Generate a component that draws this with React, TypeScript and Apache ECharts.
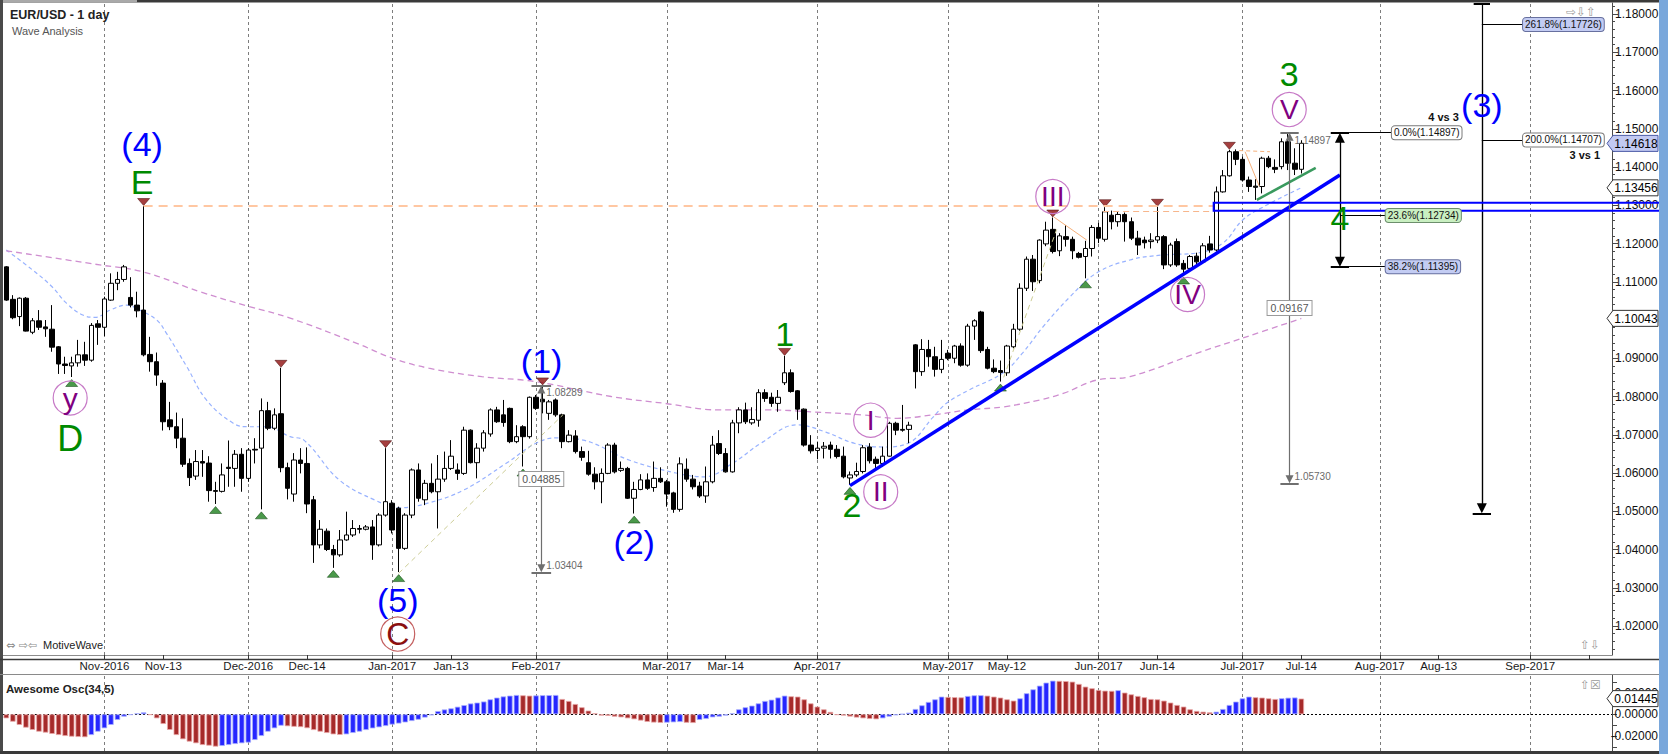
import React, { useEffect, useRef } from 'react';
import * as echarts from 'echarts';

const FONT = '"Liberation Sans", Arial, Helvetica, sans-serif';
const SYMBOL_FONT = '"DejaVu Sans", sans-serif';

// ---------------- categories: weekday sessions from 2016-10-11 ----------------
const CATEGORY_COUNT = 246;
function buildSessions(): string[] {
  const out: string[] = [];
  const d = new Date(Date.UTC(2016, 9, 11));
  while (out.length < CATEGORY_COUNT) {
    const wd = d.getUTCDay();
    if (wd !== 0 && wd !== 6) out.push(d.toISOString().slice(0, 10));
    d.setUTCDate(d.getUTCDate() + 1);
  }
  return out;
}
const sessions = buildSessions();

const xTickLabels: [string, string][] = [
  ['2016-11-01', 'Nov-2016'], ['2016-11-14', 'Nov-13'], ['2016-12-01', 'Dec-2016'], ['2016-12-14', 'Dec-14'],
  ['2017-01-02', 'Jan-2017'], ['2017-01-13', 'Jan-13'], ['2017-02-01', 'Feb-2017'], ['2017-03-01', 'Mar-2017'],
  ['2017-03-14', 'Mar-14'], ['2017-04-03', 'Apr-2017'], ['2017-05-01', 'May-2017'], ['2017-05-12', 'May-12'],
  ['2017-06-01', 'Jun-2017'], ['2017-06-14', 'Jun-14'], ['2017-07-03', 'Jul-2017'], ['2017-07-14', 'Jul-14'],
  ['2017-08-01', 'Aug-2017'], ['2017-08-14', 'Aug-13'], ['2017-09-01', 'Sep-2017'], ['2017-09-14', ''],
];
const monthStarts = ['2016-11-01', '2016-12-01', '2017-01-02', '2017-02-01', '2017-03-01', '2017-04-03',
  '2017-05-01', '2017-06-01', '2017-07-03', '2017-08-01', '2017-09-01'];

// ---------------- EUR/USD daily candles ----------------
const opens = [
  1.1139, 1.1054, 1.1009, 1.1057, 1.0968, 1.0998, 1.0982, 1.0976, 1.0930, 1.0885,
  1.0880, 1.0888, 1.0909, 1.0895, 1.0990, 1.0981, 1.1052, 1.1096, 1.1106, 1.1059,
  1.1039, 1.1026, 1.0910, 1.0891, 1.0835, 1.0739, 1.0721, 1.0691, 1.0625, 1.0592,
  1.0630, 1.0626, 1.0554, 1.0552, 1.0615, 1.0612, 1.0649, 1.0586, 1.0662, 1.0665,
  1.0763, 1.0717, 1.0755, 1.0614, 1.0545, 1.0634, 1.0625, 1.0530, 1.0412, 1.0448,
  1.0400, 1.0386, 1.0425, 1.0438, 1.0455, 1.0453, 1.0459, 1.0412, 1.0490, 1.0521,
  1.0508, 1.0403, 1.0490, 1.0608, 1.0530, 1.0573, 1.0551, 1.0584, 1.0612, 1.0608,
  1.0599, 1.0712, 1.0627, 1.0665, 1.0702, 1.0765, 1.0752, 1.0769, 1.0682, 1.0721,
  1.0695, 1.0798, 1.0793, 1.0756, 1.0791, 1.0752, 1.0682, 1.0697, 1.0656, 1.0627,
  1.0597, 1.0577, 1.0599, 1.0673, 1.0607, 1.0612, 1.0534, 1.0557, 1.0582, 1.0562,
  1.0586, 1.0577, 1.0548, 1.0505, 1.0610, 1.0584, 1.0566, 1.0540, 1.0577, 1.0677,
  1.0651, 1.0603, 1.0731, 1.0765, 1.0731, 1.0738, 1.0810, 1.0798, 1.0782, 1.0836,
  1.0862, 1.0815, 1.0767, 1.0673, 1.0659, 1.0665, 1.0673, 1.0662, 1.0644, 1.0587,
  1.0595, 1.0604, 1.0668, 1.0636, 1.0625, 1.0644, 1.0730, 1.0714, 1.0714, 1.0935,
  1.0865, 1.0923, 1.0904, 1.0871, 1.0913, 1.0900, 1.0932, 1.0882, 1.0984, 1.1021,
  1.0923, 1.0874, 1.0868, 1.0862, 1.0930, 1.0976, 1.1083, 1.1159, 1.1103, 1.1199,
  1.1237, 1.1181, 1.1218, 1.1211, 1.1174, 1.1166, 1.1187, 1.1242, 1.1211, 1.1274,
  1.1257, 1.1276, 1.1257, 1.1214, 1.1209, 1.1205, 1.1209, 1.1218, 1.1144, 1.1205,
  1.1148, 1.1135, 1.1167, 1.1152, 1.1199, 1.1183, 1.1335, 1.1377, 1.1440, 1.1420,
  1.1366, 1.1350, 1.1349, 1.1423, 1.1399, 1.1401, 1.1466, 1.1410, 1.1394,
];
const highs = [
  1.1141, 1.1065, 1.1059, 1.1060, 1.1005, 1.1026, 1.1000, 1.1039, 1.0932, 1.0904,
  1.0904, 1.0948, 1.0943, 1.0992, 1.1000, 1.1061, 1.1122, 1.1126, 1.1144, 1.1112,
  1.1074, 1.1298, 1.0956, 1.0915, 1.0843, 1.0786, 1.0758, 1.0743, 1.0638, 1.0660,
  1.0660, 1.0644, 1.0577, 1.0625, 1.0685, 1.0660, 1.0665, 1.0665, 1.0691, 1.0795,
  1.0786, 1.0769, 1.0875, 1.0627, 1.0652, 1.0665, 1.0667, 1.0540, 1.0477, 1.0455,
  1.0412, 1.0451, 1.0499, 1.0477, 1.0464, 1.0464, 1.0477, 1.0495, 1.0665, 1.0529,
  1.0512, 1.0495, 1.0612, 1.0625, 1.0582, 1.0625, 1.0647, 1.0656, 1.0686, 1.0625,
  1.0721, 1.0714, 1.0678, 1.0712, 1.0769, 1.0773, 1.0791, 1.0771, 1.0725, 1.0725,
  1.0800, 1.0804, 1.0829, 1.0791, 1.0795, 1.0755, 1.0712, 1.0712, 1.0669, 1.0658,
  1.0615, 1.0612, 1.0678, 1.0679, 1.0630, 1.0616, 1.0577, 1.0597, 1.0599, 1.0630,
  1.0615, 1.0582, 1.0551, 1.0641, 1.0638, 1.0595, 1.0577, 1.0617, 1.0697, 1.0712,
  1.0665, 1.0739, 1.0772, 1.0784, 1.0772, 1.0819, 1.0819, 1.0810, 1.0817, 1.0906,
  1.0871, 1.0817, 1.0769, 1.0699, 1.0682, 1.0681, 1.0682, 1.0673, 1.0669, 1.0604,
  1.0627, 1.0673, 1.0678, 1.0643, 1.0669, 1.0734, 1.0734, 1.0778, 1.0734, 1.0937,
  1.0950, 1.0948, 1.0930, 1.0948, 1.0922, 1.0935, 1.0939, 1.0990, 1.1002, 1.1024,
  1.0930, 1.0897, 1.0894, 1.0935, 1.0990, 1.1096, 1.1166, 1.1170, 1.1211, 1.1257,
  1.1268, 1.1227, 1.1248, 1.1218, 1.1178, 1.1207, 1.1248, 1.1254, 1.1295, 1.1286,
  1.1283, 1.1281, 1.1268, 1.1233, 1.1218, 1.1227, 1.1296, 1.1222, 1.1202, 1.1213,
  1.1157, 1.1170, 1.1176, 1.1201, 1.1220, 1.1349, 1.1392, 1.1445, 1.1446, 1.1427,
  1.1375, 1.1368, 1.1427, 1.1429, 1.1420, 1.1475, 1.1490, 1.1449, 1.1470,
];
const lows = [
  1.1050, 1.1002, 1.0984, 1.0970, 1.0963, 1.0974, 1.0956, 1.0917, 1.0859, 1.0859,
  1.0851, 1.0878, 1.0880, 1.0891, 1.0935, 1.0958, 1.1050, 1.1078, 1.1100, 1.1033,
  1.1007, 1.0905, 1.0865, 1.0828, 1.0711, 1.0712, 1.0665, 1.0616, 1.0566, 1.0582,
  1.0590, 1.0525, 1.0519, 1.0549, 1.0564, 1.0564, 1.0551, 1.0577, 1.0625, 1.0505,
  1.0712, 1.0712, 1.0602, 1.0531, 1.0525, 1.0599, 1.0495, 1.0365, 1.0403, 1.0396,
  1.0352, 1.0381, 1.0423, 1.0433, 1.0442, 1.0450, 1.0373, 1.0408, 1.0486, 1.0442,
  1.0341, 1.0399, 1.0482, 1.0525, 1.0516, 1.0547, 1.0455, 1.0577, 1.0608, 1.0582,
  1.0595, 1.0625, 1.0586, 1.0656, 1.0695, 1.0731, 1.0721, 1.0678, 1.0678, 1.0617,
  1.0690, 1.0765, 1.0756, 1.0739, 1.0747, 1.0665, 1.0680, 1.0651, 1.0632, 1.0593,
  1.0557, 1.0521, 1.0597, 1.0599, 1.0603, 1.0532, 1.0494, 1.0555, 1.0556, 1.0551,
  1.0574, 1.0512, 1.0496, 1.0499, 1.0577, 1.0557, 1.0535, 1.0522, 1.0573, 1.0647,
  1.0601, 1.0601, 1.0704, 1.0728, 1.0726, 1.0721, 1.0786, 1.0773, 1.0760, 1.0830,
  1.0810, 1.0739, 1.0669, 1.0651, 1.0636, 1.0638, 1.0638, 1.0638, 1.0586, 1.0569,
  1.0590, 1.0599, 1.0625, 1.0612, 1.0616, 1.0643, 1.0699, 1.0708, 1.0678, 1.0821,
  1.0854, 1.0878, 1.0852, 1.0861, 1.0895, 1.0887, 1.0878, 1.0878, 1.0948, 1.0914,
  1.0871, 1.0861, 1.0839, 1.0854, 1.0926, 1.0972, 1.1076, 1.1076, 1.1096, 1.1193,
  1.1174, 1.1167, 1.1192, 1.1159, 1.1161, 1.1109, 1.1166, 1.1201, 1.1205, 1.1237,
  1.1244, 1.1205, 1.1209, 1.1170, 1.1187, 1.1187, 1.1201, 1.1133, 1.1139, 1.1139,
  1.1119, 1.1131, 1.1146, 1.1148, 1.1176, 1.1179, 1.1333, 1.1375, 1.1405, 1.1362,
  1.1335, 1.1314, 1.1331, 1.1397, 1.1384, 1.1394, 1.1392, 1.1379, 1.1383,
];
const closes = [
  1.1052, 1.1006, 1.1057, 1.0971, 1.0998, 1.0981, 1.0977, 1.0929, 1.0885, 1.0881,
  1.0888, 1.0909, 1.0895, 1.0986, 1.0981, 1.1055, 1.1096, 1.1106, 1.1139, 1.1039,
  1.1024, 1.0909, 1.0891, 1.0856, 1.0734, 1.0721, 1.0691, 1.0623, 1.0588, 1.0630,
  1.0626, 1.0554, 1.0552, 1.0595, 1.0612, 1.0649, 1.0586, 1.0660, 1.0660, 1.0763,
  1.0717, 1.0752, 1.0614, 1.0560, 1.0634, 1.0625, 1.0519, 1.0412, 1.0453, 1.0400,
  1.0386, 1.0425, 1.0438, 1.0455, 1.0453, 1.0459, 1.0412, 1.0490, 1.0525, 1.0451,
  1.0403, 1.0490, 1.0608, 1.0534, 1.0573, 1.0551, 1.0584, 1.0612, 1.0644, 1.0599,
  1.0712, 1.0627, 1.0665, 1.0705, 1.0765, 1.0734, 1.0732, 1.0682, 1.0695, 1.0695,
  1.0798, 1.0769, 1.0786, 1.0786, 1.0752, 1.0682, 1.0699, 1.0656, 1.0641, 1.0597,
  1.0577, 1.0599, 1.0673, 1.0603, 1.0612, 1.0534, 1.0557, 1.0582, 1.0560, 1.0586,
  1.0577, 1.0545, 1.0505, 1.0624, 1.0584, 1.0564, 1.0540, 1.0577, 1.0673, 1.0651,
  1.0603, 1.0731, 1.0765, 1.0734, 1.0740, 1.0810, 1.0795, 1.0782, 1.0798, 1.0862,
  1.0813, 1.0767, 1.0673, 1.0658, 1.0665, 1.0670, 1.0662, 1.0643, 1.0590, 1.0595,
  1.0604, 1.0666, 1.0632, 1.0625, 1.0644, 1.0730, 1.0712, 1.0712, 1.0725, 1.0865,
  1.0923, 1.0904, 1.0871, 1.0897, 1.0900, 1.0932, 1.0882, 1.0984, 1.0998, 1.0920,
  1.0874, 1.0865, 1.0863, 1.0932, 1.0976, 1.1083, 1.1159, 1.1100, 1.1209, 1.1235,
  1.1179, 1.1220, 1.1211, 1.1181, 1.1164, 1.1187, 1.1242, 1.1214, 1.1283, 1.1257,
  1.1276, 1.1257, 1.1214, 1.1196, 1.1202, 1.1209, 1.1218, 1.1144, 1.1196, 1.1144,
  1.1133, 1.1166, 1.1152, 1.1194, 1.1183, 1.1335, 1.1377, 1.1440, 1.1420, 1.1366,
  1.1349, 1.1347, 1.1423, 1.1401, 1.1394, 1.1466, 1.1410, 1.1394, 1.1462,
];

// ---------------- Awesome Oscillator (34,5) ----------------
const aoValues = [
  -0.0037, -0.0068, -0.0098, -0.0123, -0.0144, -0.0160, -0.0169, -0.0181, -0.0191, -0.0200,
  -0.0206, -0.0209, -0.0211, -0.0191, -0.0160, -0.0129, -0.0098, -0.0052, -0.0022, -0.0006,
  0.0009, 0.0018, -0.0006, -0.0037, -0.0089, -0.0144, -0.0191, -0.0230, -0.0252, -0.0267,
  -0.0283, -0.0289, -0.0298, -0.0292, -0.0283, -0.0274, -0.0267, -0.0261, -0.0237, -0.0200,
  -0.0160, -0.0129, -0.0105, -0.0110, -0.0115, -0.0118, -0.0128, -0.0145, -0.0160, -0.0172,
  -0.0185, -0.0190, -0.0185, -0.0172, -0.0160, -0.0145, -0.0130, -0.0120, -0.0108, -0.0095,
  -0.0085, -0.0075, -0.0062, -0.0050, -0.0030, -0.0010, 0.0030, 0.0045, 0.0055, 0.0070,
  0.0085, 0.0100, 0.0108, 0.0118, 0.0138, 0.0154, 0.0165, 0.0172, 0.0178, 0.0175,
  0.0172, 0.0174, 0.0176, 0.0177, 0.0178, 0.0141, 0.0123, 0.0095, 0.0065, 0.0034,
  0.0009, -0.0012, -0.0015, -0.0022, -0.0028, -0.0037, -0.0046, -0.0058, -0.0070, -0.0076,
  -0.0079, -0.0077, -0.0074, -0.0071, -0.0078, -0.0080, -0.0052, -0.0043, -0.0028, -0.0022,
  -0.0012, 0.0009, 0.0046, 0.0065, 0.0080, 0.0101, 0.0123, 0.0135, 0.0155, 0.0172,
  0.0166, 0.0163, 0.0138, 0.0101, 0.0071, 0.0046, 0.0022, -0.0006, -0.0012, -0.0021,
  -0.0030, -0.0037, -0.0043, -0.0046, -0.0037, -0.0022, -0.0009, 0.0002, 0.0015, 0.0049,
  0.0083, 0.0114, 0.0138, 0.0163, 0.0160, 0.0158, 0.0156, 0.0169, 0.0175, 0.0176,
  0.0172, 0.0163, 0.0154, 0.0138, 0.0126, 0.0147, 0.0194, 0.0230, 0.0264, 0.0292,
  0.0310, 0.0308, 0.0306, 0.0301, 0.0280, 0.0255, 0.0240, 0.0224, 0.0218, 0.0216,
  0.0222, 0.0200, 0.0184, 0.0169, 0.0157, 0.0141, 0.0138, 0.0126, 0.0108, 0.0086,
  0.0071, 0.0046, 0.0031, 0.0024, 0.0018, 0.0024, 0.0049, 0.0086, 0.0117, 0.0147,
  0.0163, 0.0157, 0.0154, 0.0147, 0.0141, 0.0148, 0.0153, 0.0155, 0.0145,
];

// ---------------- moving averages [session index, price] ----------------
const fastMA: [number, number][] = [
  [0, 1.1183], [4, 1.1131], [7, 1.1087], [9.2, 1.1044], [11.7, 1.1013], [13.6, 1.1007], [15.9, 1.1026],
  [18.4, 1.1039], [20.4, 1.1026], [23, 1.1000], [24.5, 1.0965], [27.6, 1.0878], [30.6, 1.0791],
  [34.7, 1.0730], [37, 1.0721], [39.8, 1.0721], [43.4, 1.0695], [45.5, 1.0686], [50.9, 1.0582],
  [56.4, 1.0529], [60.2, 1.0509], [64.6, 1.0522], [70, 1.0556], [76.5, 1.0626], [81, 1.0678],
  [84.2, 1.0692], [88.2, 1.0686], [95.2, 1.0634], [102.4, 1.0600], [106.7, 1.0590], [111.1, 1.0626],
  [115.4, 1.0678], [120.9, 1.0726], [125.3, 1.0707], [129.6, 1.0678], [134, 1.0668], [137.9, 1.0678],
  [141.7, 1.0746], [143.8, 1.0783], [147.2, 1.0817], [152.4, 1.0862], [155.4, 1.0914], [158.5, 1.0982],
  [162.6, 1.1060], [166.7, 1.1123], [171.8, 1.1157], [176.8, 1.1170], [182, 1.1175], [186, 1.1201],
  [189, 1.1261], [192.1, 1.1295], [198, 1.1346],
];
const slowMA: [number, number][] = [
  [0, 1.1181], [14.3, 1.1144], [20.9, 1.1126], [29.6, 1.1074], [36.8, 1.1037], [43.4, 1.1005],
  [53.6, 1.0939], [59.1, 1.0900], [64.6, 1.0874], [72.7, 1.0852], [80.9, 1.0839], [92.5, 1.0800],
  [100.7, 1.0782], [108.9, 1.0765], [116.5, 1.0765], [123, 1.0760], [130.7, 1.0752], [136.2, 1.0743],
  [141.7, 1.0752], [147.1, 1.0765], [152.5, 1.0773], [158, 1.0791], [161.6, 1.0808], [166.7, 1.0843],
  [171.8, 1.0852], [182, 1.0913], [189.6, 1.0956], [198, 1.1004],
];

// swing markers
const swingHighIdx = [21, 42, 58, 82, 119, 160, 168, 176, 187];
const swingLowIdx = [10, 32, 39, 50, 60, 79, 96, 129, 152, 165, 180];

// trend / wave lines [session index, price]
const blueTrend: [number, number][] = [[129, 1.0567], [203.9, 1.1379]];
const greenTrend: [number, number][] = [[191.2, 1.1314], [200.2, 1.1398]];
const resistanceLevel: [number, number][] = [[21, 1.1298], [184.6, 1.1298]];
const resistanceLevel2: [number, number][] = [[167.7, 1.1285], [184.6, 1.1285]];
const waveLineA: [number, number][] = [[60, 1.0338], [85.1, 1.0752]];
const waveLineB: [number, number][] = [[152.5, 1.0850], [160.6, 1.1237]];
const waveLineC: [number, number][] = [[160.1, 1.1270], [165.2, 1.1209]];
const waveLineD: [number, number][] = [[188.5, 1.1443], [193.2, 1.1440]];
const waveLineE: [number, number][] = [[189.4, 1.1440], [191.6, 1.1349]];
const supportZone = { fromIdx: 184.6, top: 1.13066, bottom: 1.12857 };

// fib / measure tools
const measureWave1 = { x: 81.8, top: 1.08289, bottom: 1.03404, size: '0.04885' };
const measureWave3 = { x: 196.2, top: 1.14897, bottom: 1.05730, size: '0.09167' };
const fibWave4 = { x: 203.9, top: 1.14897, bottom: 1.11395, labelX: 211.85, levelX: 210.9,
  levels: [['0.0%', 1.14897], ['23.6%', 1.12734], ['38.2%', 1.11395]] as [string, number][] };
const fibWave3 = { x: 225.6, top: 1.1828, bottom: 1.04946, labelX: 231.9,
  levels: [['261.8%', 1.17726], ['200.0%', 1.14707]] as [string, number][] };

// price axis
const priceLabels = [1.02, 1.03, 1.04, 1.05, 1.06, 1.07, 1.08, 1.09, 1.10, 1.11, 1.12, 1.13, 1.14, 1.15, 1.16, 1.17, 1.18];
const PRICE_MIN = 1.01242;
const PRICE_MAX = 1.18288;
const AO_MIN = -0.03384;
const AO_MAX = 0.03623;
const aoLabels = [-0.02, 0, 0.02];
const aoTicks = [-0.03, -0.02, -0.01, 0, 0.01, 0.02, 0.03];

const lastPrice = 1.14618;
const lastFastMA = 1.13456;
const lastSlowMA = 1.10043;
const lastAO = 0.01445;

const BLUE = '#0000ff';
const GREEN = '#008a00';
const PURPLE = '#800080';
const RING = '#c77ac7';

function minorTicks(): number[] {
  const out: number[] = [];
  for (let k = 507; k <= 591; k++) {
    const v = Math.round(k * 2) / 1000;
    if (Math.round(v * 1000) % 10 !== 0) out.push(v);
  }
  return out;
}

function buildOption(): any {
  const labelMap: Record<string, string> = {};
  xTickLabels.forEach(([d, t]) => { labelMap[d] = t; });
  const isTick = (_i: number, v: string) => Object.prototype.hasOwnProperty.call(labelMap, v);
  const candles = opens.map((o, i) => [o, closes[i], lows[i], highs[i]]);
  const aoData = aoValues.map((v, i) => {
    const up = i > 0 && v > aoValues[i - 1];
    return {
      value: v,
      itemStyle: { color: up ? '#2626ff' : '#a62a2a', borderColor: up ? '#a8b0ff' : '#e9a6a6', borderWidth: 0.8 },
    };
  });
  const gridLine = { color: '#7d7d7d', width: 1, type: [3, 3] };
  const seg = (c: [number, number][], lineStyle: any) => ({ coords: c, lineStyle: { opacity: 1, ...lineStyle } });
  const cap = (x: number, y: number, half: number, color: string) =>
    seg([[x - half, y], [x + half, y]], { color, width: 2 });
  const GRAY = '#6f6f6f';
  const pad8 = 4 / 3825;
  const pad10 = 5 / 3825;

  const plainSegs = [
    seg(resistanceLevel, { color: '#ffc7a2', width: 1.8, type: [9, 6] }),
    seg(resistanceLevel2, { color: '#f7b68c', width: 1, type: [6, 4] }),
    seg(waveLineA, { color: '#cdcd96', width: 1, type: [5, 4] }),
    seg(waveLineB, { color: '#cdcd96', width: 1, type: [5, 4] }),
    seg(waveLineC, { color: '#f6b07a', width: 1 }),
    seg(waveLineD, { color: '#f6b07a', width: 1, type: [4, 3] }),
    seg(waveLineE, { color: '#f6b07a', width: 1 }),
    seg(blueTrend, { color: BLUE, width: 3.5 }),
    seg(greenTrend, { color: '#3a9a5e', width: 2.5 }),
    cap(measureWave1.x, measureWave1.top, 1.5, GRAY),
    cap(measureWave1.x, measureWave1.bottom, 1.5, GRAY),
    cap(measureWave3.x, measureWave3.top, 1.4, GRAY),
    cap(measureWave3.x, measureWave3.bottom, 1.4, GRAY),
    cap(fibWave4.x, fibWave4.top, 1.4, '#000'),
    cap(fibWave4.x, fibWave4.bottom, 1.4, '#000'),
    cap(fibWave3.x, fibWave3.top, 1.25, '#000'),
    cap(fibWave3.x, fibWave3.bottom, 1.4, '#000'),
    seg([[fibWave4.x + 1.4, fibWave4.levels[0][1]], [fibWave4.labelX, fibWave4.levels[0][1]]], { color: '#000', width: 1 }),
    seg([[fibWave4.x, fibWave4.levels[1][1]], [fibWave4.levelX, fibWave4.levels[1][1]]], { color: '#000', width: 1 }),
    seg([[fibWave4.x + 1.4, fibWave4.levels[2][1]], [fibWave4.levelX, fibWave4.levels[2][1]]], { color: '#000', width: 1 }),
    seg([[fibWave3.x, fibWave3.levels[0][1]], [fibWave3.labelX, fibWave3.levels[0][1]]], { color: '#000', width: 1 }),
    seg([[fibWave3.x, fibWave3.levels[1][1]], [fibWave3.labelX, fibWave3.levels[1][1]]], { color: '#000', width: 1 }),
    seg([[fibWave3.x, fibWave3.top], [fibWave3.x, fibWave3.bottom + pad10 * 2]], { color: '#000', width: 1.2 }),
  ];

  return {
    animation: false,
    backgroundColor: '#ffffff',
    grid: [
      { left: 3, right: 56, top: 3, bottom: 99 },
      { left: 3, right: 56, top: 675, bottom: 3 },
    ],
    xAxis: [
      {
        type: 'category', gridIndex: 0, data: sessions, boundaryGap: true,
        axisLine: { show: true, onZero: false, lineStyle: { color: '#8c8c8c', width: 1 } },
        axisTick: { show: true, alignWithLabel: true, interval: isTick, length: 5, lineStyle: { color: '#333' } },
        axisLabel: {
          interval: isTick, formatter: (v: string) => labelMap[v] || '', margin: 5,
          fontSize: 11.5, color: '#1a1a1a', fontFamily: FONT,
        },
        splitLine: { show: false },
      },
      {
        type: 'category', gridIndex: 1, data: sessions, boundaryGap: true,
        axisLine: { show: false, onZero: false }, axisTick: { show: false }, axisLabel: { show: false },
        splitLine: { show: false },
      },
      { type: 'value', gridIndex: 0, min: -0.5, max: CATEGORY_COUNT - 0.5, show: false },
    ],
    yAxis: [
      {
        type: 'value', gridIndex: 0, position: 'right', min: PRICE_MIN, max: PRICE_MAX,
        splitLine: { show: false },
        axisLine: { show: true, onZero: false, lineStyle: { color: '#4a4a4a', width: 1 } },
        axisTick: { show: true, length: 6, lineStyle: { color: '#4a4a4a' }, customValues: priceLabels },
        axisLabel: {
          customValues: priceLabels, formatter: (v: number) => v.toFixed(5), margin: 3,
          fontSize: 12, color: '#111', fontFamily: FONT,
        },
      },
      {
        type: 'value', gridIndex: 1, position: 'right', min: AO_MIN, max: AO_MAX,
        splitLine: { show: false },
        axisLine: { show: true, onZero: false, lineStyle: { color: '#4a4a4a', width: 1 } },
        axisTick: { show: true, length: 5, lineStyle: { color: '#4a4a4a' }, customValues: aoTicks },
        axisLabel: {
          customValues: aoLabels, formatter: (v: number) => v.toFixed(5), margin: 46, align: 'right',
          fontSize: 12, color: '#111', fontFamily: FONT,
        },
      },
      {
        type: 'value', gridIndex: 0, position: 'right', min: PRICE_MIN, max: PRICE_MAX,
        splitLine: { show: false }, axisLine: { show: false, onZero: false },
        axisTick: { show: true, length: 3, lineStyle: { color: '#4a4a4a' }, customValues: minorTicks() },
        axisLabel: { show: false },
      },
    ],
    series: [
      {
        type: 'candlestick', xAxisIndex: 0, yAxisIndex: 0, data: candles, barWidth: 5, z: 3,
        itemStyle: { color: '#ffffff', color0: '#000000', borderColor: '#000000', borderColor0: '#000000', borderWidth: 1 },
        markLine: {
          silent: true, symbol: 'none', z: 1, label: { show: false }, lineStyle: gridLine,
          data: monthStarts.map((d) => ({ xAxis: d })),
        },
      },
      {
        type: 'scatter', xAxisIndex: 0, yAxisIndex: 0, z: 4,
        data: swingHighIdx.map((i) => [sessions[i], highs[i]]),
        symbol: 'triangle', symbolRotate: 180, symbolSize: [12, 7], symbolOffset: [0, -4],
        itemStyle: { color: '#8e0f0f', borderColor: '#400000', borderWidth: 0.6 },
      },
      {
        type: 'scatter', xAxisIndex: 0, yAxisIndex: 0, z: 4,
        data: swingLowIdx.map((i) => [sessions[i], lows[i]]),
        symbol: 'triangle', symbolSize: [12, 7], symbolOffset: [0, 6],
        itemStyle: { color: '#1d7f1d', borderColor: '#0b3d0b', borderWidth: 0.6 },
      },
      {
        type: 'line', xAxisIndex: 2, yAxisIndex: 0, data: fastMA, smooth: 0.4, showSymbol: false, symbol: 'none', z: 2,
        lineStyle: { color: '#98b2ff', width: 1.2, type: [4, 3] },
      },
      {
        type: 'line', xAxisIndex: 2, yAxisIndex: 0, data: slowMA, smooth: 0.4, showSymbol: false, symbol: 'none', z: 2,
        lineStyle: { color: '#cf8ed0', width: 1.3, type: [6, 4] },
      },
      {
        type: 'lines', coordinateSystem: 'cartesian2d', xAxisIndex: 2, yAxisIndex: 0, z: 5, silent: true,
        symbol: 'none', lineStyle: { opacity: 1 }, data: plainSegs,
      },
      {
        type: 'lines', coordinateSystem: 'cartesian2d', xAxisIndex: 2, yAxisIndex: 0, z: 5, silent: true,
        symbol: ['triangle', 'triangle'], symbolSize: 8,
        lineStyle: { color: GRAY, width: 1.2, opacity: 1 },
        data: [
          { coords: [[measureWave1.x, measureWave1.top - pad8], [measureWave1.x, measureWave1.bottom + pad8]] },
          { coords: [[measureWave3.x, measureWave3.top - pad8], [measureWave3.x, measureWave3.bottom + pad8]] },
        ],
      },
      {
        type: 'lines', coordinateSystem: 'cartesian2d', xAxisIndex: 2, yAxisIndex: 0, z: 5, silent: true,
        symbol: ['triangle', 'triangle'], symbolSize: 10,
        lineStyle: { color: '#000', width: 1.3, opacity: 1 },
        data: [{ coords: [[fibWave4.x, fibWave4.top - pad10], [fibWave4.x, fibWave4.bottom + pad10]] }],
      },
      {
        type: 'lines', coordinateSystem: 'cartesian2d', xAxisIndex: 2, yAxisIndex: 0, z: 5, silent: true,
        symbol: ['none', 'triangle'], symbolSize: 10,
        lineStyle: { color: '#000', width: 1.2, opacity: 1 },
        data: [{ coords: [[fibWave3.x, fibWave3.top - 0.02], [fibWave3.x, fibWave3.bottom + pad10]] }],
      },
      {
        type: 'bar', xAxisIndex: 1, yAxisIndex: 1, data: aoData, barWidth: '84%', z: 3,
        markLine: {
          silent: true, symbol: 'none', z: 1, label: { show: false }, lineStyle: gridLine,
          data: [
            ...monthStarts.map((d) => ({ xAxis: d })),
            { yAxis: 0, lineStyle: { color: '#000', width: 1, type: [2, 2] } },
          ],
        },
      },
    ],
  };
}

const waveLabels = [
  { text: '(4)', idx: 21, ref: 'high', dx: -1.5, dy: -62, color: BLUE, size: 34 },
  { text: 'E', idx: 21, ref: 'high', dx: -1.5, dy: -24, color: GREEN, size: 34 },
  { text: 'y', idx: 10, ref: 'low', dx: -1.5, dy: 21, color: PURPLE, size: 30, ring: RING },
  { text: 'D', idx: 10, ref: 'low', dx: -1.5, dy: 61, color: GREEN, size: 36 },
  { text: '(5)', idx: 60, ref: 'low', dx: -1, dy: 28, color: BLUE, size: 34 },
  { text: 'C', idx: 60, ref: 'low', dx: -1, dy: 62, color: '#8b1010', size: 32, ring: '#c46060' },
  { text: '(1)', idx: 82, ref: 'high', dx: -1, dy: -24, color: BLUE, size: 34 },
  { text: '(2)', idx: 96, ref: 'low', dx: 0, dy: 28, color: BLUE, size: 34 },
  { text: '1', idx: 119, ref: 'high', dx: 0, dy: -22, color: GREEN, size: 34 },
  { text: '2', idx: 129, ref: 'low', dx: 2, dy: 20, color: GREEN, size: 34 },
  { text: 'I', idx: 132, ref: 'high', dx: 1, dy: -23, color: PURPLE, size: 28, ring: RING },
  { text: 'II', idx: 134, ref: 'low', dx: -2, dy: 25, color: PURPLE, size: 28, ring: RING },
  { text: 'III', idx: 160, ref: 'high', dx: 0, dy: -21, color: PURPLE, size: 28, ring: RING },
  { text: 'IV', idx: 180, ref: 'low', dx: 4, dy: 20, color: PURPLE, size: 28, ring: RING },
  { text: 'V', idx: 196, ref: 'high', dx: 1, dy: -23, color: PURPLE, size: 28, ring: RING },
  { text: '3', idx: 196, ref: 'high', dx: 1, dy: -59, color: GREEN, size: 34 },
];

function buildGraphics(chart: any): any[] {
  const P = (x: number, y: number): number[] => chart.convertToPixel({ seriesIndex: 3 }, [x, y]);
  const AOy = (v: number): number => chart.convertToPixel({ seriesIndex: 9 }, [sessions[0], v])[1];
  const g: any[] = [];
  const text = (x: number, y: number, s: string, style: any = {}, z = 50) => {
    g.push({
      type: 'text', x, y, z, silent: true,
      style: { text: s, fill: '#000', fontFamily: FONT, fontSize: 12, align: 'center', verticalAlign: 'middle', ...style },
    });
  };
  const rect = (x: number, y: number, w: number, h: number, fill: string, z = 60) =>
    g.push({ type: 'rect', z, silent: true, shape: { x, y, width: w, height: h }, style: { fill } });
  const hline = (x1: number, x2: number, y: number, stroke: string, lw: number, z = 60) =>
    g.push({ type: 'line', z, silent: true, shape: { x1, y1: y, x2, y2: y }, style: { stroke, lineWidth: lw } });

  // frame
  rect(0, 0, 1668, 2.5, '#3a3a3a');
  rect(0, 0, 137, 2.5, '#a9a9a9');
  rect(0, 0, 3, 754, '#4a4a4a');
  rect(0, 751, 1668, 3, '#3a3a3a');
  rect(1659, 0, 9, 754, '#79a7db');
  hline(0, 1659, 659.5, '#3a3a3a', 1.5);
  hline(0, 1659, 674.5, '#8a8a8a', 1);

  // titles / watermarks
  text(10, 15, 'EUR/USD - 1 day', { align: 'left', fontWeight: 'bold', fontSize: 12.5, fill: '#222' });
  text(12, 31, 'Wave Analysis', { align: 'left', fontSize: 11, fill: '#555' });
  text(6, 645, '⇔ ⇨⇦', { align: 'left', fontSize: 11, fill: '#8a8a8a', fontFamily: SYMBOL_FONT });
  text(43, 645, 'MotiveWave', { align: 'left', fontSize: 11, fill: '#222' });
  text(1566, 12, '⇨⇩⇧', { align: 'left', fontSize: 12, fill: '#9a9a9a', fontFamily: SYMBOL_FONT });
  text(1580, 645, '⇧⇩', { align: 'left', fontSize: 12, fill: '#9a9a9a', fontFamily: SYMBOL_FONT });
  text(1580, 685, '⇧☒', { align: 'left', fontSize: 12, fill: '#9a9a9a', fontFamily: SYMBOL_FONT });
  text(6, 689, 'Awesome Osc(34,5)', { align: 'left', fontWeight: 'bold', fontSize: 11.5, fill: '#222' });

  // support zone box
  {
    const [x0, yTop] = P(supportZone.fromIdx, supportZone.top);
    const yBot = P(supportZone.fromIdx, supportZone.bottom)[1];
    g.push({
      type: 'rect', z: 40, silent: true, shape: { x: x0, y: yTop, width: 1668 - x0 + 4, height: yBot - yTop },
      style: { fill: 'none', stroke: BLUE, lineWidth: 2 },
    });
  }

  // wave labels
  waveLabels.forEach((a) => {
    const base = a.ref === 'high' ? highs[a.idx] : lows[a.idx];
    const [x, y] = P(a.idx, base);
    const cx = x + a.dx;
    const cy = y + a.dy;
    if (a.ring) {
      g.push({ type: 'circle', z: 45, silent: true, shape: { cx, cy, r: 17 }, style: { fill: 'none', stroke: a.ring, lineWidth: 1.2 } });
    }
    text(cx, cy, a.text, { fill: a.color, fontSize: a.size });
  });

  // measure tool labels
  [measureWave1, measureWave3].forEach((m) => {
    const [x, yt] = P(m.x, m.top);
    const yb = P(m.x, m.bottom)[1];
    text(x + 5, yt + 7.5, m.top.toFixed(5), { align: 'left', fontSize: 10, fill: '#6a6a6a' });
    text(x + 5, yb - 6.5, m.bottom.toFixed(5), { align: 'left', fontSize: 10, fill: '#6a6a6a' });
    text(x, (yt + yb) / 2, m.size, {
      fontSize: 10.5, fill: '#555', backgroundColor: '#fff', borderColor: '#9a9a9a', borderWidth: 1, padding: [2, 3, 1, 3],
    });
  });

  // fib labels
  const fibBox = (x: number, y: number, s: string, bg: string, border: string) =>
    text(x, y, s, {
      align: 'left', fontSize: 10, fill: '#111', backgroundColor: bg, borderColor: border, borderWidth: 1,
      borderRadius: 3, padding: [2, 2, 1, 2],
    });
  {
    const lv = fibWave4.levels;
    const [xl, y0] = P(fibWave4.labelX, lv[0][1]);
    fibBox(xl, y0, `${lv[0][0]}(${lv[0][1].toFixed(5)})`, '#ffffff', '#7a7a7a');
    const [xl2, y1] = P(fibWave4.levelX, lv[1][1]);
    fibBox(xl2, y1, `${lv[1][0]}(${lv[1][1].toFixed(5)})`, '#c9efc1', '#6c8f6c');
    const y2 = P(fibWave4.levelX, lv[2][1])[1];
    fibBox(xl2, y2, `${lv[2][0]}(${lv[2][1].toFixed(5)})`, '#c3ccf3', '#67709f');
    text(xl + 67, y0 - 16, '4 vs 3', { align: 'right', fontWeight: 'bold', fontSize: 11, fill: '#111' });
    const [xb, yb] = P(fibWave4.x, fibWave4.bottom);
    text(xb, yb - 48.5, '4', { fill: GREEN, fontSize: 34 });
  }
  {
    const lv = fibWave3.levels;
    const [xl, y0] = P(fibWave3.labelX, lv[0][1]);
    fibBox(xl, y0, `${lv[0][0]}(${lv[0][1].toFixed(5)})`, '#c3ccf3', '#67709f');
    const y1 = P(fibWave3.labelX, lv[1][1])[1];
    fibBox(xl, y1, `${lv[1][0]}(${lv[1][1].toFixed(5)})`, '#ffffff', '#7a7a7a');
    text(xl + 77, y1 + 15.5, '3 vs 1', { align: 'right', fontWeight: 'bold', fontSize: 11, fill: '#111' });
    const [xv] = P(fibWave3.x, lv[1][1]);
    text(xv, y1 - 35, '(3)', { fill: BLUE, fontSize: 34 });
  }

  // price tags on right axis
  const tag = (y: number, s: string, fill: string, stroke: string) => {
    g.push({
      type: 'polygon', z: 70, silent: true,
      shape: { points: [[1607, y], [1613, y - 8], [1658, y - 8], [1658, y + 8], [1613, y + 8]] },
      style: { fill, stroke, lineWidth: 1 },
    });
    text(1636, y + 0.5, s, { fontSize: 12, fill: '#000' }, 71);
  };
  tag(P(0, lastPrice)[1], lastPrice.toFixed(5), '#c2c9f2', '#4b5aa6');
  tag(P(0, lastFastMA)[1], lastFastMA.toFixed(5), '#ffffff', '#333');
  tag(P(0, lastSlowMA)[1], lastSlowMA.toFixed(5), '#ffffff', '#333');
  tag(AOy(lastAO), lastAO.toFixed(5), '#ffffff', '#333');

  return g;
}

export default function App() {
  const ref = useRef<HTMLDivElement>(null);
  useEffect(() => {
    if (!ref.current) return undefined;
    const chart = echarts.init(ref.current, undefined, { renderer: 'svg' });
    chart.setOption(buildOption());
    chart.setOption({ graphic: buildGraphics(chart) });
    return () => chart.dispose();
  }, []);
  return (
    <div
      ref={ref}
      style={{ position: 'absolute', left: 0, top: 0, width: 1668, height: 754, background: '#ffffff' }}
    />
  );
}
